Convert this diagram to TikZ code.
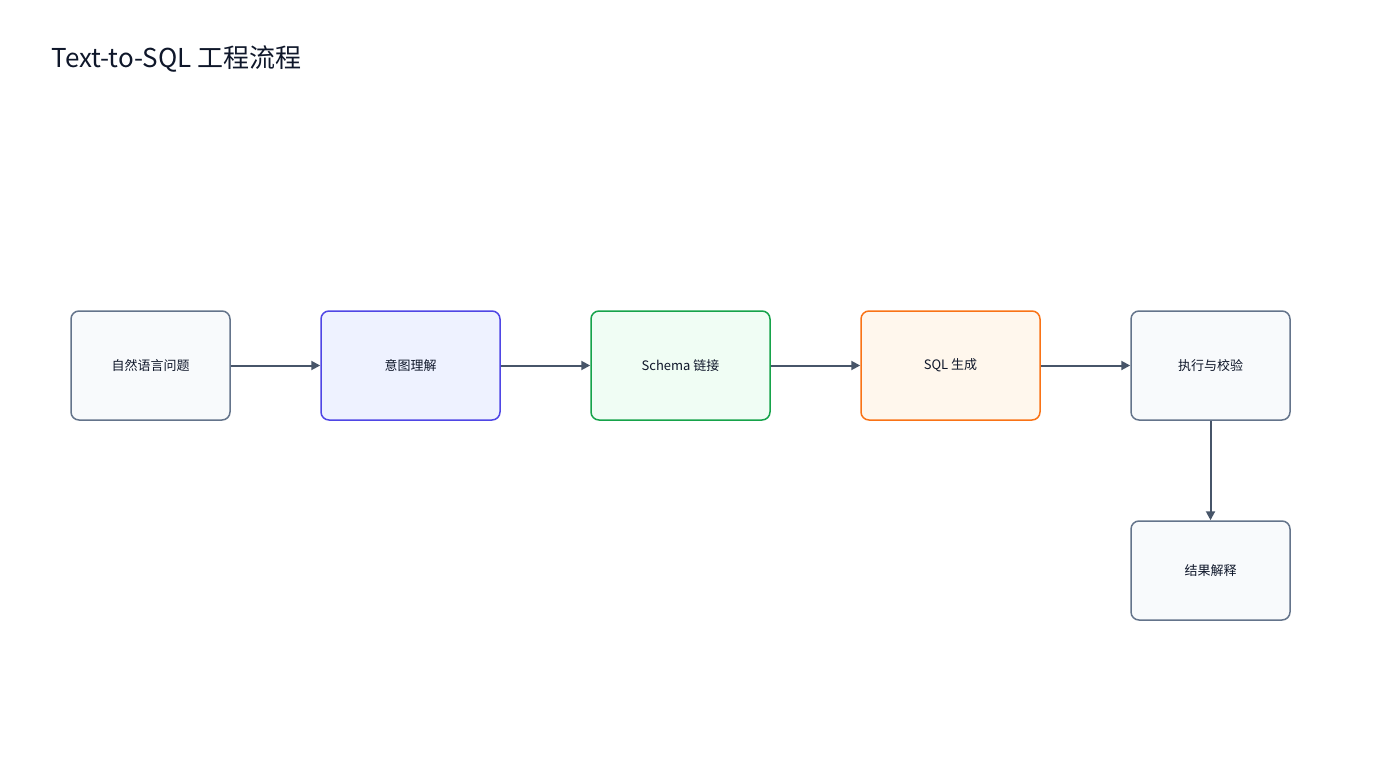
\documentclass[tikz,border=0pt]{standalone}
\usepackage{fontspec}
\setmainfont{Noto Sans CJK SC}
\usetikzlibrary{arrows.meta}
\definecolor{grayb}{HTML}{64748B}\definecolor{grayf}{HTML}{F8FAFC}
\definecolor{blueb}{HTML}{4F46E5}\definecolor{bluef}{HTML}{EEF2FF}
\definecolor{greenb}{HTML}{16A34A}\definecolor{greenf}{HTML}{F0FDF4}
\definecolor{orangeb}{HTML}{F97316}\definecolor{orangef}{HTML}{FFF7ED}
\definecolor{arr}{HTML}{475569}\definecolor{txt}{HTML}{0F172A}
\begin{document}
\begin{tikzpicture}[x=1pt,y=-1pt,
  box/.style={draw,line width=1.5pt,rounded corners=8pt,align=center,font=\fontsize{13}{16}\selectfont,text=txt},
  conn/.style={draw=arr,line width=2pt,-{Triangle[length=9pt,width=9pt]}}]
\useasboundingbox (0,0) rectangle (1400,760);
\node[anchor=west,font=\fontsize{26}{30}\selectfont,text=txt] (title) at (48,59) {Text-to-SQL 工程流程};
\node[box,draw=grayb,fill=grayf,minimum width=159pt,minimum height=109pt] (a) at (150.5,365.5) {自然语言问题};
\node[box,draw=blueb,fill=bluef,minimum width=179pt,minimum height=109pt] (b) at (410.5,365.5) {意图理解};
\node[box,draw=greenb,fill=greenf,minimum width=179pt,minimum height=109pt] (c) at (680.5,365.5) {Schema 链接};
\node[box,draw=orangeb,fill=orangef,minimum width=179pt,minimum height=109pt] (d) at (950.5,365.5) {SQL 生成};
\node[box,draw=grayb,fill=grayf,minimum width=159pt,minimum height=109pt] (e) at (1210.5,365.5) {执行与校验};
\node[box,draw=grayb,fill=grayf,minimum width=159pt,minimum height=99pt] (f) at (1210.5,570.5) {结果解释};
\draw[conn] (a) -- (b);
\draw[conn] (b) -- (c);
\draw[conn] (c) -- (d);
\draw[conn] (d) -- (e);
\draw[conn] (e) -- (f);
\end{tikzpicture}
\end{document}
